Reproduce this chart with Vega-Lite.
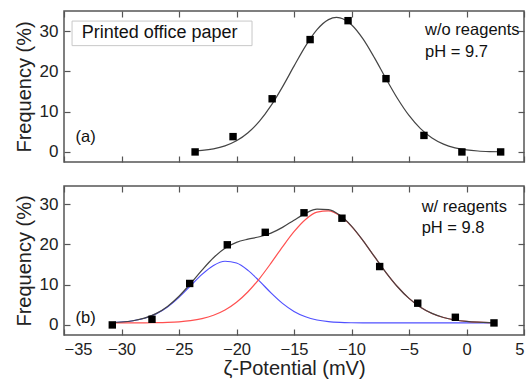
{
  "$schema": "https://vega.github.io/schema/vega-lite/v6.json",
  "background": "white",
  "padding": {"left": 13, "top": 9, "right": 0, "bottom": 0},
  "spacing": 20,
  "config": {
    "font": "Liberation Sans",
    "view": {"stroke": "#555", "strokeWidth": 1.5},
    "axis": {
      "domain": false, "grid": false, "ticks": true, "tickSize": -6, "tickColor": "#555", "tickWidth": 1.2,
      "labelFont": "Liberation Sans", "labelFontSize": 17, "labelColor": "#222",
      "titleFont": "Liberation Sans", "titleFontSize": 20, "titleFontWeight": "normal", "titleColor": "#222"
    }
  },
  "datasets": {
    "top_pts": [
      {"x": -23.6, "y": 0}, {"x": -20.3, "y": 3.8}, {"x": -16.9, "y": 13.2}, {"x": -13.6, "y": 27.9},
      {"x": -10.3, "y": 32.6}, {"x": -7.0, "y": 18.2}, {"x": -3.7, "y": 4.1}, {"x": -0.4, "y": 0}, {"x": 2.97, "y": 0}
    ],
    "top_fit": [
      {"x": -23.6, "y": 0.23}, {"x": -23, "y": 0.37}, {"x": -22, "y": 0.77}, {"x": -21, "y": 1.52}, {"x": -20, "y": 2.77},
      {"x": -19, "y": 4.76}, {"x": -18, "y": 7.63}, {"x": -17, "y": 11.48}, {"x": -16, "y": 16.16}, {"x": -15, "y": 21.3},
      {"x": -14, "y": 26.28}, {"x": -13, "y": 30.37}, {"x": -12, "y": 32.86}, {"x": -11.3, "y": 33.4}, {"x": -11, "y": 33.3},
      {"x": -10, "y": 31.59}, {"x": -9, "y": 28.07}, {"x": -8, "y": 23.35}, {"x": -7, "y": 18.19}, {"x": -6, "y": 13.27},
      {"x": -5, "y": 9.06}, {"x": -4, "y": 5.79}, {"x": -3, "y": 3.47}, {"x": -2, "y": 1.95}, {"x": -1, "y": 1.02},
      {"x": 0, "y": 0.5}, {"x": 1, "y": 0.23}, {"x": 2, "y": 0.1}, {"x": 2.97, "y": 0.04}
    ],
    "bot_pts": [
      {"x": -30.8, "y": 0}, {"x": -27.35, "y": 1.4}, {"x": -24.07, "y": 10.3}, {"x": -20.8, "y": 19.9},
      {"x": -17.5, "y": 23.0}, {"x": -14.13, "y": 27.85}, {"x": -10.83, "y": 26.5}, {"x": -7.55, "y": 14.5},
      {"x": -4.24, "y": 5.4}, {"x": -0.97, "y": 1.9}, {"x": 2.39, "y": 0.5}
    ],
    "bot_fit": [
      {"x": -30.8, "sum": 0.605, "blue": 0.603, "red": 0.502},
      {"x": -30, "sum": 0.727, "blue": 0.723, "red": 0.504},
      {"x": -29, "sum": 1.042, "blue": 1.032, "red": 0.51},
      {"x": -28, "sum": 1.674, "blue": 1.65, "red": 0.524},
      {"x": -27, "sum": 2.804, "blue": 2.746, "red": 0.558},
      {"x": -26, "sum": 4.602, "blue": 4.471, "red": 0.631},
      {"x": -25, "sum": 7.133, "blue": 6.855, "red": 0.778},
      {"x": -24, "sum": 10.257, "blue": 9.699, "red": 1.058},
      {"x": -23, "sum": 13.61, "blue": 12.55, "red": 1.56},
      {"x": -22, "sum": 16.68, "blue": 14.78, "red": 2.398},
      {"x": -21, "sum": 19.03, "blue": 15.82, "red": 3.709},
      {"x": -20, "sum": 20.5, "blue": 15.37, "red": 5.628},
      {"x": -19, "sum": 21.29, "blue": 13.55, "red": 8.237},
      {"x": -18, "sum": 21.9, "blue": 10.87, "red": 11.53},
      {"x": -17, "sum": 22.8, "blue": 7.957, "red": 15.34},
      {"x": -16, "sum": 24.22, "blue": 5.351, "red": 19.37},
      {"x": -15, "sum": 26.01, "blue": 3.355, "red": 23.15},
      {"x": -14, "sum": 27.71, "blue": 2.021, "red": 26.19},
      {"x": -13, "sum": 28.74, "blue": 1.233, "red": 28.01},
      {"x": -12, "sum": 28.65, "blue": 0.819, "red": 28.33},
      {"x": -11, "sum": 27.22, "blue": 0.626, "red": 27.09},
      {"x": -10, "sum": 24.54, "blue": 0.545, "red": 24.49},
      {"x": -9, "sum": 20.96, "blue": 0.515, "red": 20.94},
      {"x": -8, "sum": 16.95, "blue": 0.505, "red": 16.95},
      {"x": -7, "sum": 13.0, "blue": 0.5, "red": 13.0},
      {"x": -6, "sum": 9.48, "blue": 0.5, "red": 9.476},
      {"x": -5, "sum": 6.59, "blue": 0.5, "red": 6.585},
      {"x": -4, "sum": 4.4, "blue": 0.5, "red": 4.398},
      {"x": -3, "sum": 2.86, "blue": 0.5, "red": 2.857},
      {"x": -2, "sum": 1.85, "blue": 0.5, "red": 1.847},
      {"x": -1, "sum": 1.23, "blue": 0.5, "red": 1.226},
      {"x": 0, "sum": 0.87, "blue": 0.5, "red": 0.87},
      {"x": 1, "sum": 0.68, "blue": 0.5, "red": 0.678},
      {"x": 2, "sum": 0.58, "blue": 0.5, "red": 0.581},
      {"x": 2.4, "sum": 0.56, "blue": 0.5, "red": 0.558}
    ],
    "top_text": [
      {"x": -3.6, "y": 30.3, "t": "w/o reagents"},
      {"x": -3.6, "y": 24.9, "t": "pH = 9.7"},
      {"x": -34.0, "y": 3.7, "t": "(a)"}
    ],
    "bot_text": [
      {"x": -3.9, "y": 29.3, "t": "w/ reagents"},
      {"x": -3.9, "y": 24.0, "t": "pH = 9.8"},
      {"x": -34.0, "y": 1.7, "t": "(b)"}
    ],
    "box": [{"x": -34.3, "x2": -18.65, "y": 26.4, "y2": 32.5, "t": "Printed office paper", "tx": -33.45, "ty": 29.5}]
  },
  "vconcat": [
    {
      "width": 460, "height": 151,
      "layer": [
        {
          "data": {"name": "top_fit"},
          "mark": {"type": "line", "color": "#444", "strokeWidth": 1.2, "interpolate": "monotone"},
          "encoding": {
            "x": {"field": "x", "type": "quantitative", "scale": {"domain": [-35, 5], "nice": false},
                  "axis": {"orient": "bottom", "values": [-35, -30, -25, -20, -15, -10, -5, 0, 5], "labels": false, "title": null}},
            "y": {"field": "y", "type": "quantitative", "scale": {"domain": [-2.5, 35], "nice": false},
                  "axis": {"orient": "left", "values": [0, 10, 20, 30], "labelPadding": 12, "title": "Frequency (%)", "titlePadding": 5}}
          }
        },
        {
          "data": {"name": "top_pts"},
          "mark": {"type": "square", "color": "black", "opacity": 1, "size": 55},
          "encoding": {
            "x": {"field": "x", "type": "quantitative", "scale": {"domain": [-35, 5], "nice": false},
                  "axis": {"orient": "top", "values": [-35, -30, -25, -20, -15, -10, -5, 0, 5], "labels": false, "title": null}},
            "y": {"field": "y", "type": "quantitative", "scale": {"domain": [-2.5, 35], "nice": false},
                  "axis": {"orient": "right", "values": [0, 10, 20, 30], "labels": false, "title": null}}
          }
        },
        {
          "data": {"name": "box"},
          "mark": {"type": "rect", "fill": "white", "stroke": "#c8c8c8", "strokeWidth": 1},
          "encoding": {
            "x": {"field": "x", "type": "quantitative", "axis": null},
            "x2": {"field": "x2"},
            "y": {"field": "y", "type": "quantitative", "axis": null},
            "y2": {"field": "y2"}
          }
        },
        {
          "data": {"name": "box"},
          "mark": {"type": "text", "align": "left", "baseline": "middle", "fontSize": 18, "color": "#111", "font": "Liberation Sans"},
          "encoding": {
            "x": {"field": "tx", "type": "quantitative", "axis": null},
            "y": {"field": "ty", "type": "quantitative", "axis": null},
            "text": {"field": "t"}
          }
        },
        {
          "data": {"name": "top_text"},
          "mark": {"type": "text", "align": "left", "baseline": "middle", "fontSize": 16.5, "color": "#111", "font": "Liberation Sans"},
          "encoding": {
            "x": {"field": "x", "type": "quantitative", "axis": null},
            "y": {"field": "y", "type": "quantitative", "axis": null},
            "text": {"field": "t"}
          }
        }
      ],
      "resolve": {"axis": {"x": "independent", "y": "independent"}}
    },
    {
      "width": 460, "height": 149,
      "layer": [
        {
          "data": {"name": "bot_fit"},
          "mark": {"type": "line", "color": "#5050ff", "strokeWidth": 1.2, "interpolate": "monotone"},
          "encoding": {
            "x": {"field": "x", "type": "quantitative", "scale": {"domain": [-35, 5], "nice": false},
                  "axis": {"orient": "bottom", "values": [-35, -30, -25, -20, -15, -10, -5, 0, 5], "labelFontSize": 16.5, "labelPadding": 12, "title": "ζ-Potential (mV)", "titlePadding": 1}},
            "y": {"field": "blue", "type": "quantitative", "scale": {"domain": [-2.5, 34.5], "nice": false},
                  "axis": {"orient": "left", "values": [0, 10, 20, 30], "labelPadding": 12, "title": "Frequency (%)", "titlePadding": 5}}
          }
        },
        {
          "data": {"name": "bot_fit"},
          "mark": {"type": "line", "color": "#ff5050", "strokeWidth": 1.2, "interpolate": "monotone"},
          "encoding": {
            "x": {"field": "x", "type": "quantitative", "axis": null},
            "y": {"field": "red", "type": "quantitative", "axis": null}
          }
        },
        {
          "data": {"name": "bot_fit"},
          "mark": {"type": "line", "color": "#444", "strokeWidth": 1.2, "interpolate": "monotone"},
          "encoding": {
            "x": {"field": "x", "type": "quantitative", "axis": null},
            "y": {"field": "sum", "type": "quantitative", "axis": null}
          }
        },
        {
          "data": {"name": "bot_pts"},
          "mark": {"type": "square", "color": "black", "opacity": 1, "size": 55},
          "encoding": {
            "x": {"field": "x", "type": "quantitative",
                  "axis": {"orient": "top", "values": [-35, -30, -25, -20, -15, -10, -5, 0, 5], "labels": false, "title": null}},
            "y": {"field": "y", "type": "quantitative",
                  "axis": {"orient": "right", "values": [0, 10, 20, 30], "labels": false, "title": null}}
          }
        },
        {
          "data": {"name": "bot_text"},
          "mark": {"type": "text", "align": "left", "baseline": "middle", "fontSize": 16.5, "color": "#111", "font": "Liberation Sans"},
          "encoding": {
            "x": {"field": "x", "type": "quantitative", "axis": null},
            "y": {"field": "y", "type": "quantitative", "axis": null},
            "text": {"field": "t"}
          }
        }
      ],
      "resolve": {"axis": {"x": "independent", "y": "independent"}}
    }
  ]
}
